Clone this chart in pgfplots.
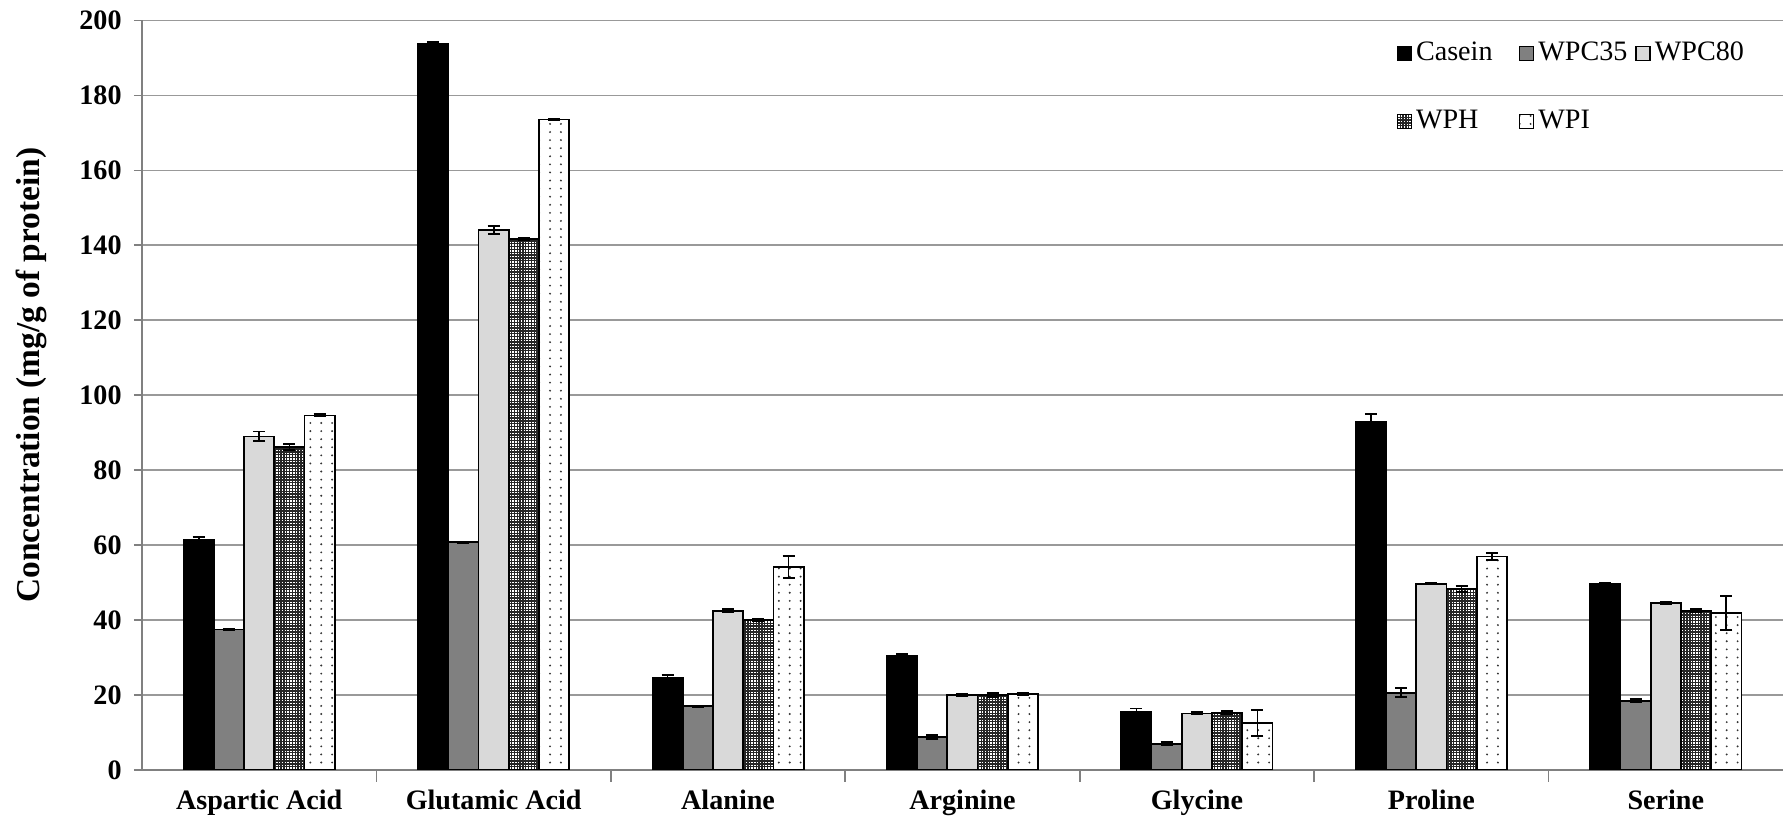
\documentclass[border=0pt]{standalone}
\usepackage{fontspec}
\setmainfont{Liberation Serif}
\usepackage{pgfplots}
\pgfplotsset{compat=1.18}
\usepackage{pgfplotstable}
\usetikzlibrary{patterns}
\pgfdeclarepatternformonly{finegrid}{\pgfqpoint{-0.1pt}{-0.1pt}}{\pgfqpoint{0.9pt}{0.9pt}}{\pgfqpoint{0.8pt}{0.8pt}}{\pgfpathrectangle{\pgfqpoint{0.2pt}{0.2pt}}{\pgfqpoint{0.4pt}{0.4pt}}\pgfusepath{fill}}
\pgfdeclarepatternformonly{sparsedots}{\pgfqpoint{-0.3pt}{-0.3pt}}{\pgfqpoint{3.4pt}{2.6pt}}{\pgfqpoint{3.1pt}{2.3pt}}{\pgfpathcircle{\pgfqpoint{1.5pt}{1.1pt}}{0.3pt}\pgfusepath{fill}}
\definecolor{gmid}{HTML}{808080}
\definecolor{glight}{HTML}{D9D9D9}
\pgfplotstableread{
x c ce a ae b be h he i ie
0 61.5 0.7 37.5 0.2 89.0 1.3 86.2 0.8 94.6 0.3
1 193.8 0.5 60.8 0.2 144.1 1.0 141.7 0.2 173.6 0.2
2 24.6 0.8 17.0 0.2 42.5 0.4 40.0 0.2 54.2 3.0
3 30.4 0.6 8.8 0.5 20.0 0.3 20.0 0.5 20.3 0.3
4 15.6 0.8 7.0 0.4 15.1 0.3 15.3 0.5 12.5 3.5
5 92.9 2.0 20.6 1.2 49.7 0.2 48.3 0.8 57.0 1.0
6 49.6 0.2 18.5 0.4 44.6 0.3 42.5 0.4 41.9 4.5
}\data
\pgfplotsset{eb/.style={error bars/.cd, y dir=both, y explicit,
  error bar style={black, line width=0.5pt},
  error mark options={rotate=90, mark size=0.6mm, black, line width=0.5pt}}}
\begin{document}
\begin{tikzpicture}
\begin{axis}[
  scale only axis, width=16.41cm, height=7.495cm,
  ymin=0, ymax=200, ytick={0,20,...,200},
  xmin=-0.5, xmax=6.5,
  ybar, bar width=0.129,
  axis lines=left, axis line style={-, draw=gray, line width=0.6pt},
  ymajorgrids, grid style={gray!80, line width=0.5pt},
  xtick={0,...,6},
  xticklabels={Aspartic Acid, Glutamic Acid, Alanine, Arginine, Glycine, Proline, Serine},
  major x tick style={draw=none},
  extra x ticks={0.5,1.5,...,5.5}, extra x tick labels={},
  extra x tick style={grid=none, major tick length=1.2mm, major x tick style={draw=gray, line width=0.5pt}},
  tick align=outside, major tick length=0.8mm,
  y tick style={draw=gray, line width=0.5pt},
  /pgf/number format/assume math mode=true,
  tick label style={font=\fontsize{8}{9.6}\selectfont\bfseries},
  ylabel={Concentration (mg/g of protein)},
  ylabel style={at={(axis description cs:-0.0674,0.527)}, anchor=center, font=\fontsize{9.5}{11}\selectfont\bfseries},
  legend columns=3,
  legend cell align=left,
  legend style={at={(axis description cs:0.7577,0.9877)}, anchor=north west, draw=none, fill=none,
    font=\fontsize{8}{9.6}\selectfont, row sep=3.65mm,
    /tikz/every even column/.append style={column sep=0.5mm},
    nodes={inner sep=0.4mm}},
  legend image code/.code={\draw[#1,line width=0.4pt] (0mm,-0.7mm) rectangle (1.4mm,0.7mm);},
]
\addplot[draw=black, line width=0.5pt, fill=black, bar shift=-0.258, eb] table[x=x, y=c, y error=ce] {\data};
\addplot[draw=black, line width=0.5pt, fill=gmid, bar shift=-0.129, eb] table[x=x, y=a, y error=ae] {\data};
\addplot[draw=black, line width=0.5pt, fill=glight, bar shift=0, eb] table[x=x, y=b, y error=be] {\data};
\addplot[draw=black, line width=0.5pt, fill=black!85, postaction={pattern=finegrid, pattern color=white}, bar shift=0.129, eb] table[x=x, y=h, y error=he] {\data};
\addplot[draw=black, line width=0.5pt, fill=white, postaction={pattern=sparsedots, pattern color=black!80}, bar shift=0.258, eb] table[x=x, y=i, y error=ie] {\data};
\addlegendentry{\makebox[9.4mm][l]{Casein}}
\addlegendentry{\makebox[8.8mm][l]{WPC35}}
\addlegendentry{WPC80}
\addlegendentry{\makebox[9.4mm][l]{WPH}}
\addlegendentry{\makebox[8.8mm][l]{WPI}}
\end{axis}
\pgfresetboundingbox
\path[use as bounding box] (-1.42cm,-0.53cm) rectangle (16.41cm,7.70cm);
\end{tikzpicture}
\end{document}
